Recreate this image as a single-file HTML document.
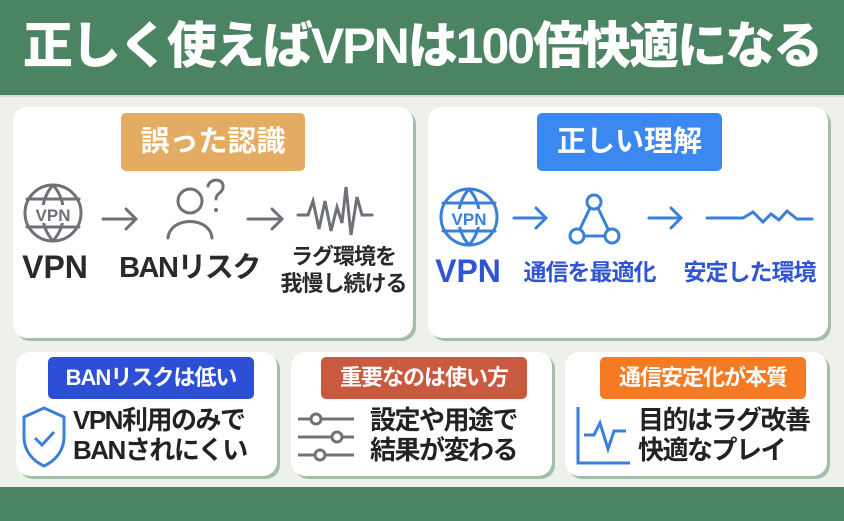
<!DOCTYPE html>
<html><head><meta charset="utf-8"><style>
*{margin:0;padding:0;box-sizing:border-box}
body{width:844px;height:521px;background:#eef0ea;position:relative;overflow:hidden;font-family:"Liberation Sans","Noto Sans CJK JP",sans-serif;font-weight:bold}
.abs{position:absolute}
.hdr{left:0;top:0;width:844px;height:97px;background:#4b8462;border-bottom:2px solid #d7dfd6}
.title{left:0;top:14px;width:844px;text-align:center;color:#fff;font-size:50px;line-height:64px;letter-spacing:-2px;white-space:nowrap;font-weight:900}
.foot{left:0;top:487px;width:844px;height:34px;background:#4b8462}
.card{background:#fff;border-radius:14px;box-shadow:3px 3px 0 #a3bfa9}
.lbl{color:#fff;text-align:center;border-radius:5px;white-space:nowrap}
.big{font-size:29px;line-height:58px}
.sm{font-size:22px;line-height:42px;letter-spacing:-1px}
.t{color:#2a2a2a;text-align:center;white-space:nowrap}
.b{color:#2f55d4;text-align:center;white-space:nowrap}
.body{font-size:26px;line-height:30px;color:#222;letter-spacing:-1.5px;white-space:nowrap}
</style></head><body>
<div class="abs hdr"></div>
<div class="abs title">正しく使えばVPNは100倍快適になる</div>

<div class="abs card" style="left:13px;top:107px;width:400px;height:231px"></div>
<div class="abs lbl big" style="left:121px;top:113px;width:184px;height:58px;background:#e3ac62">誤った認識</div>
<svg class="abs" style="left:0;top:175px" width="422" height="80">
 <g fill="none" stroke="#6e7177" stroke-width="3" stroke-linecap="round">
  <circle cx="53" cy="38" r="28"/><path d="M27 24h52M27 52h52M53 10c-14 16-14 40 0 56M53 10c14 16 14 40 0 56"/>
  <path d="M103 44h33M126 34l10 10-10 10"/>
  <circle cx="190" cy="26" r="12"/><path d="M168 63c2-22 42-22 44 0"/>
  <path d="M208 11c2-8 16-8 15 1c0 6-7 6-7 12"/>
  <path d="M248 44h34M272 34l10 10-10 10"/>
  <path d="M298 40h10l5-14 6 28 6-28 6 30 6-24 5 16 4-36 5 48 6-38 5 18h10"/>
 </g>
 <circle cx="216" cy="35" r="2" fill="#6e7177"/>
 <rect x="28" y="30" width="50" height="18" fill="#fff"/>
 <text x="53" y="46" font-size="17" text-anchor="middle" fill="#6e7177" font-family="Liberation Sans" font-weight="bold">VPN</text>
</svg>
<div class="abs t" style="left:13px;top:247px;width:84px;font-size:32px;line-height:40px">VPN</div>
<div class="abs t" style="left:112px;top:248px;width:155px;font-size:29px;line-height:40px;letter-spacing:-1.5px">BANリスク</div>
<div class="abs t" style="left:272px;top:243px;width:143px;font-size:22px;line-height:27px;letter-spacing:-1px">ラグ環境を<br>我慢し続ける</div>

<div class="abs card" style="left:428px;top:107px;width:400px;height:231px"></div>
<div class="abs lbl big" style="left:537px;top:113px;width:185px;height:58px;background:#3a88f0">正しい理解</div>
<svg class="abs" style="left:422px;top:170px" width="422" height="80">
 <g fill="none" stroke="#3a7fd8" stroke-width="3" stroke-linecap="round">
  <circle cx="47" cy="47" r="28"/><path d="M21 33h52M21 61h52M47 19c-14 16-14 40 0 56M47 19c14 16 14 40 0 56"/>
  <path d="M92 48h32M114 38l10 10-10 10"/>
  <circle cx="172" cy="32" r="7"/><circle cx="155" cy="66" r="7"/><circle cx="190" cy="66" r="7"/>
  <path d="M168 38l-10 21M176 38l10 21M162 66h21"/>
  <path d="M227 48h32M249 38l10 10-10 10"/>
  <path d="M285 48h36l10-6 10 10 8-8 8 6 8-9 10 8h15"/>
 </g>
 <rect x="22" y="39" width="50" height="18" fill="#fff"/>
 <text x="47" y="55" font-size="17" text-anchor="middle" fill="#3a7fd8" font-family="Liberation Sans" font-weight="bold">VPN</text>
</svg>
<div class="abs b" style="left:426px;top:251px;width:84px;font-size:32px;line-height:40px">VPN</div>
<div class="abs b" style="left:512px;top:254px;width:155px;font-size:23px;line-height:36px;letter-spacing:-1px">通信を最適化</div>
<div class="abs b" style="left:672px;top:254px;width:155px;font-size:23px;line-height:36px;letter-spacing:-1px">安定した環境</div>

<div class="abs card" style="left:16px;top:352px;width:261px;height:124px"></div>
<div class="abs lbl sm" style="left:48px;top:357px;width:206px;height:42px;background:#2d4fd6">BANリスクは低い</div>
<svg class="abs" style="left:20px;top:405px" width="50" height="65"><path d="M24 3l20 9v20c0 14-9 24-20 29C13 56 4 46 4 32V12z" fill="none" stroke="#3a7fd8" stroke-width="3"/><path d="M15 33l7 7 12-13" fill="none" stroke="#3a7fd8" stroke-width="3"/></svg>
<div class="abs body" style="left:73px;top:405px">VPN利用のみで<br>BANされにくい</div>

<div class="abs card" style="left:291px;top:352px;width:261px;height:124px"></div>
<div class="abs lbl sm" style="left:321px;top:357px;width:206px;height:42px;background:#c95a40">重要なのは使い方</div>
<svg class="abs" style="left:296px;top:405px" width="64" height="60"><g stroke="#70747a" stroke-width="3" fill="#fff"><path d="M2 14h56M2 32h56M2 50h56"/><circle cx="20" cy="14" r="5"/><circle cx="41" cy="32" r="5"/><circle cx="24" cy="50" r="5"/></g></svg>
<div class="abs body" style="left:370px;top:405px">設定や用途で<br>結果が変わる</div>

<div class="abs card" style="left:565px;top:352px;width:262px;height:124px"></div>
<div class="abs lbl sm" style="left:600px;top:357px;width:206px;height:42px;background:#f57a22">通信安定化が本質</div>
<svg class="abs" style="left:574px;top:405px" width="64" height="62"><g fill="none" stroke="#3a7fd8" stroke-width="3"><path d="M4 2v56h52"/><path d="M10 30h10l6-12 8 26 6-18h12"/></g></svg>
<div class="abs body" style="left:638px;top:405px">目的はラグ改善<br>快適なプレイ</div>

<div class="abs foot"></div>
</body></html>
